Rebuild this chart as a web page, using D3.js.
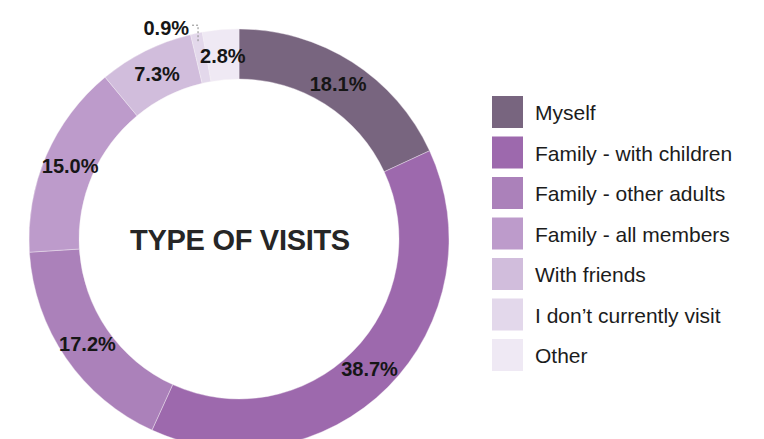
<!DOCTYPE html>
<html>
<head>
<meta charset="utf-8">
<script src="https://cdn.jsdelivr.net/npm/d3@7"></script>
<style>
body{margin:0;background:#fff;}
text{font-family:'Liberation Sans', Arial, Helvetica, sans-serif;}
</style>
</head>
<body>
<svg id="chart" width="764" height="439"></svg>
<script>
var categories = ["Myself", "Family - with children", "Family - other adults", "Family - all members", "With friends", "I don\u2019t currently visit", "Other"];
var values = [18.1, 38.7, 17.2, 15.0, 7.3, 0.9, 2.8];
var colors = ["#78657f", "#9d69ad", "#ab81ba", "#bd9bcb", "#d1bddc", "#e3d8eb", "#efe9f4"];
var title = "TYPE OF VISITS";

var dataset = categories.map(function(c, i){
    return {key: i, caption: c, value: values[i], color: colors[i]};
});

var svg = d3.select("#chart");
var cx = 239, cy = 239;
var outerR = 210, innerR = 160;

var pie = d3.pie()
    .sort(null)
    .value(function(d){return d.value;});

var arc = d3.arc()
    .innerRadius(innerR)
    .outerRadius(outerR);

//label position (middle of ring)
var labelArc = d3.arc()
    .innerRadius(184)
    .outerRadius(184);

var g = svg.append("g")
    .attr("transform", "translate(" + cx + "," + cy + ")");

var arcs = pie(dataset);

g.selectAll("path")
    .data(arcs)
    .enter()
    .append("path")
    .attr("d", arc)
    .attr("fill", function(d){return d.data.color;})
    .attr("stroke", "#f4f0f6")
    .attr("stroke-width", 0.4);

//labels inside ring, small slices get outside label
g.selectAll("text.pct")
    .data(arcs.filter(function(d){return d.data.value >= 2;}))
    .enter()
    .append("text")
    .attr("class", "pct")
    .attr("transform", function(d){return "translate(" + labelArc.centroid(d) + ")";})
    .attr("dy", "0.36em")
    .attr("text-anchor", "middle")
    .attr("font-size", "20px")
    .attr("font-weight", "bold")
    .attr("fill", "#161616")
    .text(function(d){return d.data.value.toFixed(1) + "%";});

arcs.filter(function(d){return d.data.value < 2;}).forEach(function(d){
    var mid = (d.startAngle + d.endAngle) / 2;
    var px = Math.sin(mid) * 202, py = -Math.cos(mid) * 202;
    var topY = py - 16;
    g.append("path")
        .attr("d", "M" + px + "," + py + "V" + topY + "H" + (px - 7))
        .attr("fill", "none")
        .attr("stroke", "#8a8a8a")
        .attr("stroke-width", 1)
        .attr("stroke-dasharray", "2,2");
    g.append("text")
        .attr("x", px - 9)
        .attr("y", topY + 10)
        .attr("text-anchor", "end")
        .attr("font-size", "20px")
        .attr("font-weight", "bold")
        .attr("fill", "#161616")
        .text(d.data.value.toFixed(1) + "%");
});

g.append("text")
    .attr("x", 1)
    .attr("y", 11)
    .attr("text-anchor", "middle")
    .attr("font-size", "29px")
    .attr("font-weight", "bold")
    .attr("letter-spacing", "-0.3px")
    .attr("fill", "#262626")
    .text(title);

//legend
var legend = svg.append("g")
    .attr("transform", "translate(492,96)");

var items = legend.selectAll("g")
    .data(dataset)
    .enter()
    .append("g")
    .attr("transform", function(d, i){return "translate(0," + (i * 40.5) + ")";});

items.append("rect")
    .attr("width", 31)
    .attr("height", 32)
    .attr("fill", function(d){return d.color;});

items.append("text")
    .attr("x", 43)
    .attr("y", 24)
    .attr("font-size", "21px")
    .attr("fill", "#1c1c1c")
    .text(function(d){return d.caption;});
</script>
</body>
</html>
